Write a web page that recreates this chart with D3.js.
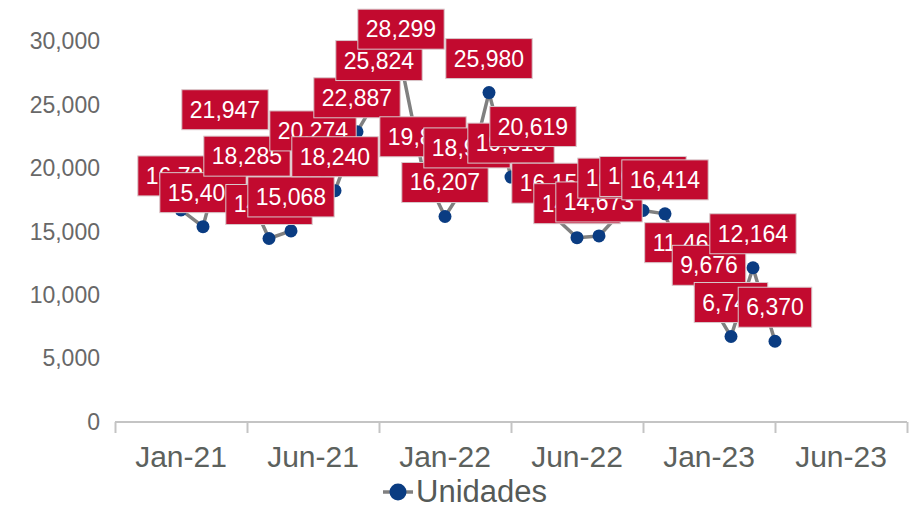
<!DOCTYPE html>
<html>
<head>
<meta charset="utf-8">
<script src="https://cdn.jsdelivr.net/npm/d3@7/dist/d3.min.js"></script>
<style>
  html, body { margin: 0; padding: 0; background: #ffffff; }
  svg { display: block; font-family: "Liberation Sans", Arial, sans-serif; }
</style>
</head>
<body>
<svg id="chart" width="923" height="509"></svg>
<script>
// Monthly units, Jan-21 to Apr-23
const months = [
  "Jan-21","Feb-21","Mar-21","Apr-21","May-21","Jun-21","Jul-21","Aug-21","Sep-21","Oct-21","Nov-21","Dec-21",
  "Jan-22","Feb-22","Mar-22","Apr-22","May-22","Jun-22","Jul-22","Aug-22","Sep-22","Oct-22","Nov-22","Dec-22",
  "Jan-23","Feb-23","Mar-23","Apr-23"
];
const unidades = [
  16726, 15406, 21947, 18285, 14472, 15068, 20274, 18240, 22887, 25824, 28299, 19812,
  16207, 18935, 25980, 19313, 20619, 16152, 14537, 14673, 16552, 16682, 16414, 11462,
  9676, 6741, 12164, 6370
];
const xTickLabels = ["Jan-21", "Jun-21", "Jan-22", "Jun-22", "Jan-23", "Jun-23"];
const yTicks = [0, 5000, 10000, 15000, 20000, 25000, 30000];
const seriesName = "Unidades";

// Axis spans 36 month slots; the first data month sits at slot 3
const firstSlot = 3;
const totalSlots = 36;
const slotsPerTick = 6;

const svg = d3.select("#chart");
const x = d3.scaleLinear().domain([0, totalSlots]).range([115, 907]);
const y = d3.scaleLinear().domain([0, 30000]).range([422, 41.6]);

const fmt = d3.format(",");

// Y axis labels (no axis line)
const yAxis = d3.axisLeft(y).tickValues(yTicks).tickFormat(fmt).tickSize(0).tickPadding(0);
const gy = svg.append("g").attr("transform", "translate(100,0)").call(yAxis);
gy.select(".domain").remove();
gy.selectAll("text")
  .attr("fill", "#686868")
  .style("font-size", "23px")
  .style("font-family", "'Liberation Sans', Arial, sans-serif");

// X axis: baseline with tick marks every 6 slots, labels centred between them
const tickSlots = d3.range(0, totalSlots + 1, slotsPerTick);
const xAxis = d3.axisBottom(x).tickValues(tickSlots).tickSize(11).tickFormat("");
const gx = svg.append("g").attr("transform", `translate(0,${y(0)})`).call(xAxis);
gx.select(".domain").attr("stroke", "#c4c4c4").attr("stroke-width", 2)
  .attr("d", `M${x(0)},0H${x(totalSlots)}`);
gx.selectAll(".tick line").attr("stroke", "#c4c4c4").attr("stroke-width", 2);

svg.append("g").selectAll("text")
  .data(xTickLabels)
  .join("text")
  .attr("x", (d, i) => x(i * slotsPerTick + slotsPerTick / 2))
  .attr("y", 467)
  .attr("text-anchor", "middle")
  .attr("fill", "#5c615d")
  .style("font-size", "30px")
  .text(d => d);

// Series data
const data = unidades.map((v, i) => ({ month: months[i], value: v, slot: firstSlot + i }));

// Line
const line = d3.line().x(d => x(d.slot)).y(d => y(d.value));
svg.append("path")
  .datum(data)
  .attr("fill", "none")
  .attr("stroke", "#808080")
  .attr("stroke-width", 3.5)
  .attr("stroke-linejoin", "round")
  .attr("d", line);

// Markers
svg.append("g").selectAll("circle")
  .data(data)
  .join("circle")
  .attr("cx", d => x(d.slot))
  .attr("cy", d => y(d.value))
  .attr("r", 6.5)
  .attr("fill", "#0a3c82");

// Value labels: red boxes above each point, drawn in sequence
const labels = svg.append("g");
data.forEach(d => {
  const g = labels.append("g");
  const cx = x(d.slot), cy = y(d.value);
  const rect = g.append("rect");
  const t = g.append("text")
    .attr("x", cx)
    .attr("y", cy - 26)
    .attr("text-anchor", "middle")
    .attr("fill", "#ffffff")
    .style("font-size", "23px")
    .text(fmt(d.value));
  const w = t.node().getComputedTextLength() + 16;
  rect.attr("x", cx - w / 2)
    .attr("y", cy - 54)
    .attr("width", w)
    .attr("height", 40)
    .attr("fill", "#c20a2f")
    .attr("stroke", "#d8c8cb")
    .attr("stroke-width", 1);
});

// Legend
const lg = svg.append("g");
lg.append("line")
  .attr("x1", 383).attr("x2", 413).attr("y1", 492).attr("y2", 492)
  .attr("stroke", "#808080").attr("stroke-width", 3.5);
lg.append("circle").attr("cx", 398).attr("cy", 492).attr("r", 8.5).attr("fill", "#0a3c82");
lg.append("text")
  .attr("x", 416).attr("y", 502)
  .attr("fill", "#555a57")
  .style("font-size", "31px")
  .text(seriesName);
</script>
</body>
</html>
